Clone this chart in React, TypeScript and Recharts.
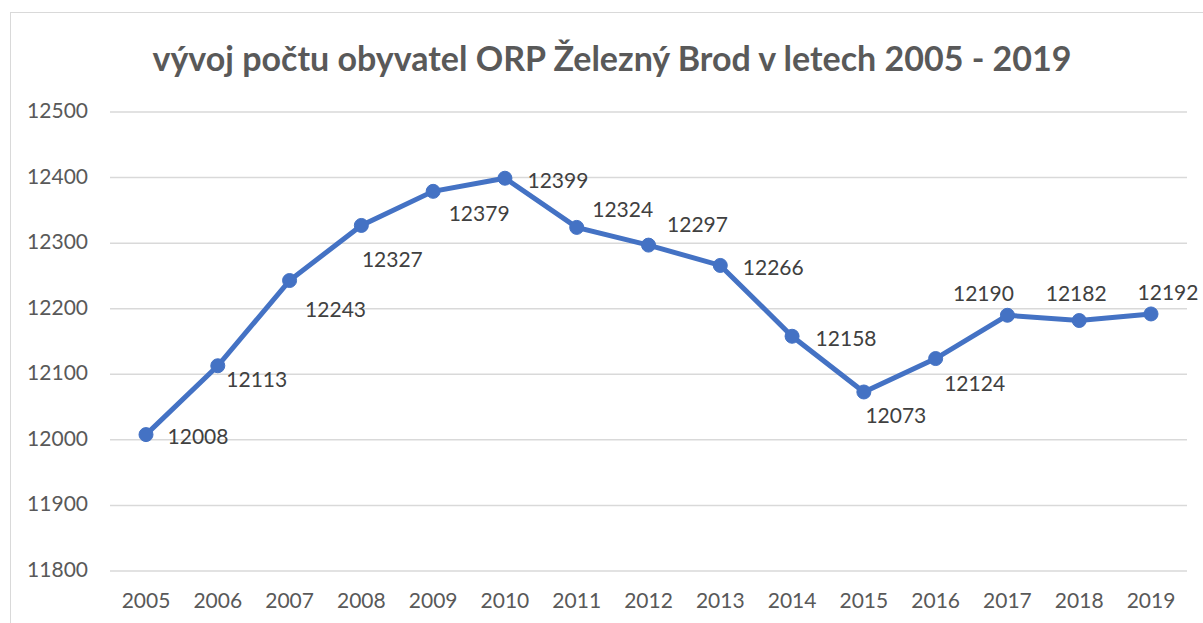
import React from "react";
import { LineChart, Line, XAxis, YAxis, CartesianGrid, LabelList } from "recharts";

const years = ["2005","2006","2007","2008","2009","2010","2011","2012","2013","2014","2015","2016","2017","2018","2019"];
const population = [12008,12113,12243,12327,12379,12399,12324,12297,12266,12158,12073,12124,12190,12182,12192];
const yTicks = [11800,11900,12000,12100,12200,12300,12400,12500];
const titleText = "vývoj počtu obyvatel ORP Železný Brod v letech 2005 - 2019";

// label placement offsets (label centre relative to its point), styling only
const labelOffsets: [number, number][] = [
  [52, 2],[39, 14],[46, 29],[31, 34],[46, 22],[53, 2],[46, -18],[49, -21],
  [53, 2],[54, 2],[32, 24],[39, 25],[-24, -22],[-3, -27],[17, -21],
];

const data = years.map((y, i) => ({ year: y, value: population[i] }));

const FONT = "Lato, 'Open Sans', sans-serif";
const FS = 21;

const YTick = (props: any) => {
  const { x, y, payload } = props;
  return (
    <text x={x} y={y + 6} textAnchor="end" fill="#595959" fontSize={FS} fontFamily={FONT}>
      {payload.value}
    </text>
  );
};

const XTick = (props: any) => {
  const { x, y, payload } = props;
  return (
    <text x={x} y={y + 29} textAnchor="middle" fill="#595959" fontSize={FS} fontFamily={FONT}>
      {payload.value}
    </text>
  );
};

const renderLabel = (props: any) => {
  const { x, y, index, value } = props;
  const off = labelOffsets[index] || [0, -20];
  return (
    <text x={x + off[0]} y={y + off[1] + 7.5} textAnchor="middle" fill="#404040" fontSize={FS} fontFamily={FONT}>
      {value}
    </text>
  );
};

export default function App() {
  return (
    <div style={{ position: "absolute", left: 0, top: 0, width: 1203, height: 623, overflow: "hidden", background: "#fff" }}>
      <div style={{ position: "absolute", left: 10, top: 12, width: 1300, height: 700, borderLeft: "1.5px solid #d9d9d9", borderTop: "1.5px solid #d9d9d9" }} />
      <div style={{ position: "absolute", left: 0, top: 35, width: 1224, textAlign: "center", fontFamily: FONT, fontWeight: 700, fontSize: 34, color: "#595959", lineHeight: "46px", whiteSpace: "nowrap" }}>
        {titleText}
      </div>
      <div style={{ position: "absolute", left: 0, top: 0 }}>
        <LineChart width={1203} height={623} data={data} margin={{ top: 112, right: 16, bottom: 22, left: 0 }}>
          <CartesianGrid vertical={false} stroke="#d9d9d9" strokeWidth={1.5} />
          <XAxis dataKey="year" axisLine={false} tickLine={false} tick={<XTick />} height={30} interval={0} padding={{ left: 36, right: 36 }} />
          <YAxis domain={[11800, 12500]} ticks={yTicks} axisLine={false} tickLine={false} tick={<YTick />} width={110} tickSize={0} tickMargin={22} interval={0} />
          <Line type="linear" dataKey="value" stroke="#4472C4" strokeWidth={5} isAnimationActive={false}
            dot={{ r: 7, fill: "#4472C4", stroke: "#4472C4", strokeWidth: 1 }}>
            <LabelList dataKey="value" content={renderLabel} />
          </Line>
        </LineChart>
      </div>
    </div>
  );
}
